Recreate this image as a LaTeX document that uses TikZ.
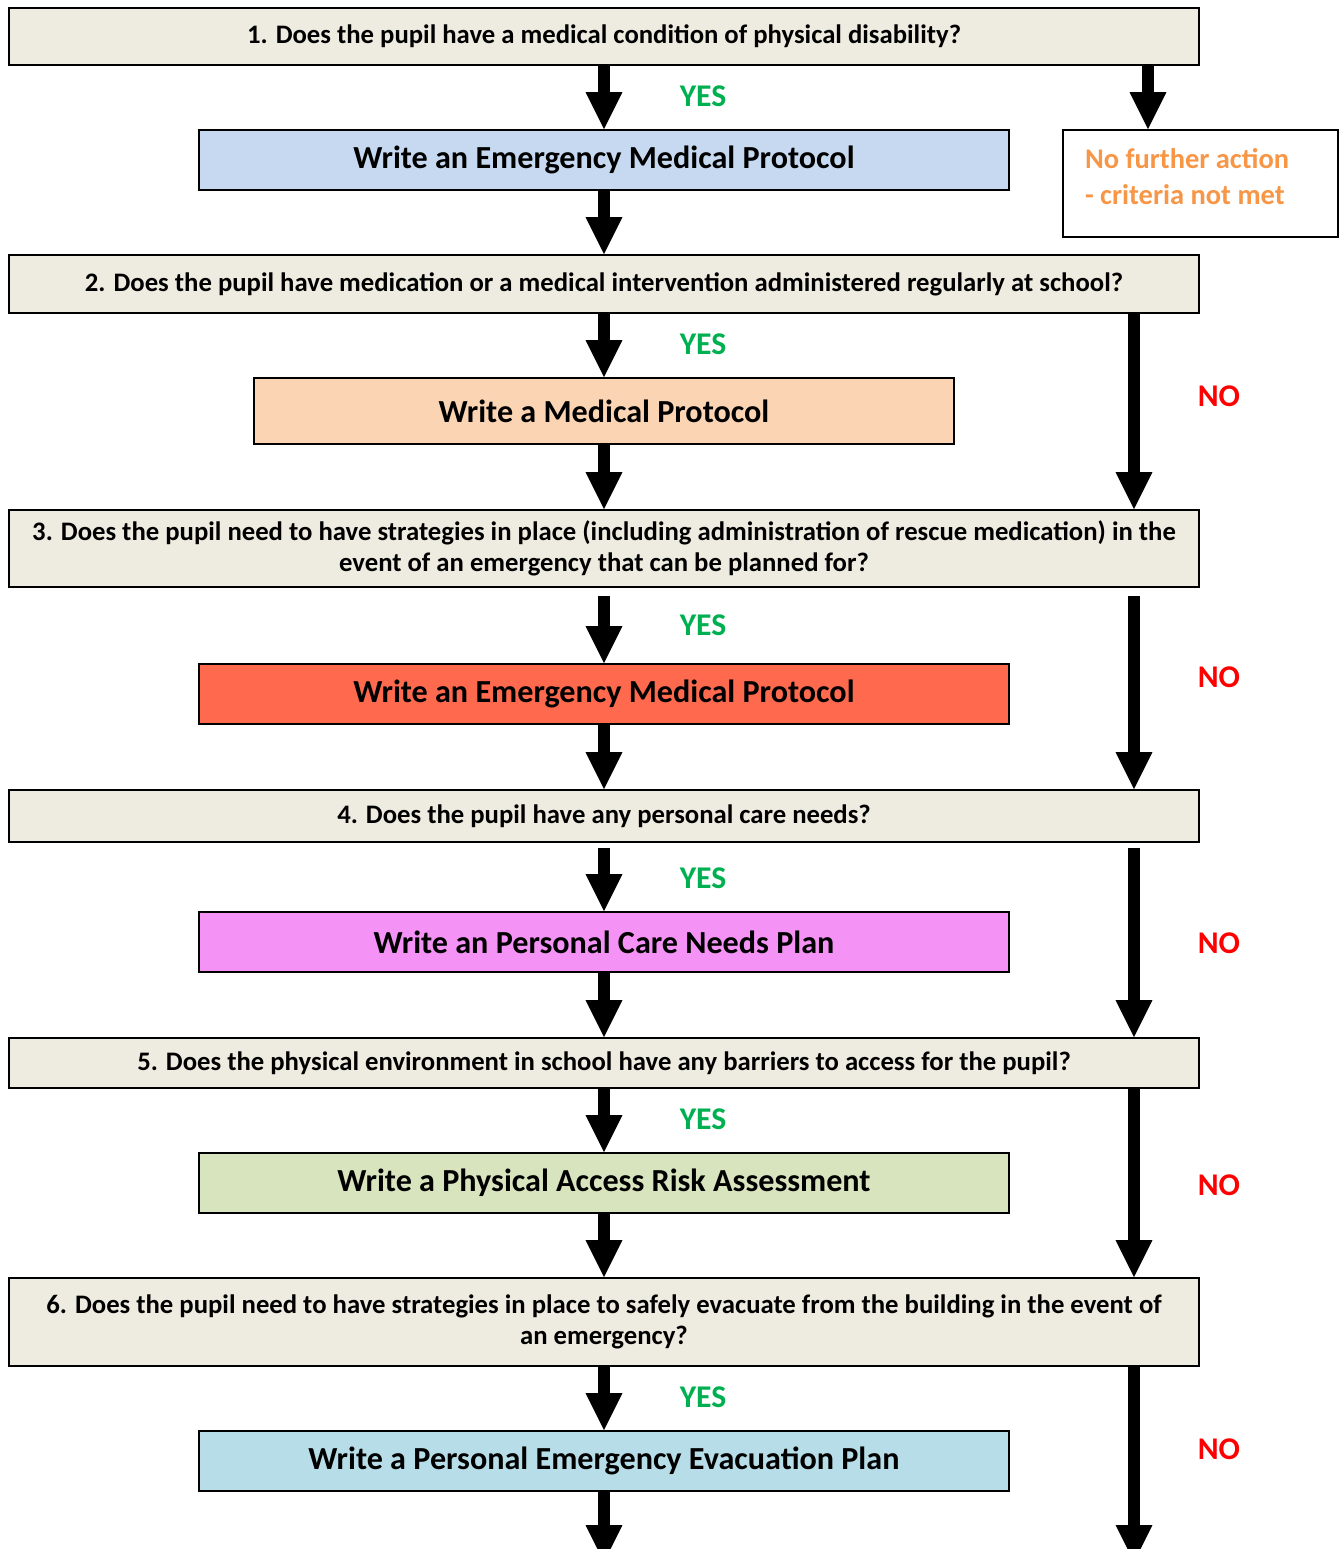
\documentclass[tikz,border=0pt]{standalone}
\usepackage{fontspec}
\setmainfont{Carlito}
\usepackage{tikz}
\usetikzlibrary{arrows.meta,positioning}
\definecolor{qfill}{HTML}{EEECE1}
\definecolor{bluefill}{HTML}{C6D9F1}
\definecolor{peachfill}{HTML}{FBD4B4}
\definecolor{redfill}{HTML}{FF694D}
\definecolor{pinkfill}{HTML}{F592F5}
\definecolor{greenfill}{HTML}{D7E4BD}
\definecolor{cyanfill}{HTML}{B7DEE8}
\definecolor{yesgreen}{HTML}{00B050}
\definecolor{nored}{HTML}{FF0000}
\definecolor{nfaorange}{HTML}{F79646}
\tikzstyle{question} = [rectangle, draw, line width=1.1pt, fill=qfill, inner sep=0pt,
    minimum width=23.8cm, align=center, font=\fontsize{15.2}{18}\selectfont\bfseries]
\tikzstyle{action} = [rectangle, draw, line width=1.1pt, inner sep=0pt,
    minimum width=16.2cm, minimum height=1.2cm, font=\fontsize{18.3}{22}\selectfont\bfseries]
\tikzstyle{arrow} = [line width=6.8pt, -{Triangle[width=21pt,length=21pt,line width=0pt]}]
\tikzstyle{yes} = [text=yesgreen, font=\fontsize{18}{22}\selectfont\bfseries]
\tikzstyle{no} = [text=nored, font=\fontsize{18}{22}\selectfont\bfseries]

\begin{document}
\begin{tikzpicture}[x=0.02cm, y=-0.02cm]
\useasboundingbox (0,0) rectangle (1343,1549);
% questions and actions, main column
\node[question, minimum height=1.14cm] (q1) at (604,36.5) {1. Does the pupil have a medical condition of physical disability?};
\node[action, fill=bluefill] (a1) at (604,160) {Write an Emergency Medical Protocol};
\node[question, minimum height=1.16cm] (q2) at (604,284) {2. Does the pupil have medication or a medical intervention administered regularly at school?};
\node[action, fill=peachfill, minimum width=14cm, minimum height=1.32cm] (a2) at (604,411) {Write a Medical Protocol};
\node[question, minimum height=1.54cm] (q3) at (604,548.5) {3. Does the pupil need to have strategies in place (including administration of rescue medication) in the\\event of an emergency that can be planned for?};
\node[action, fill=redfill] (a3) at (604,694) {Write an Emergency Medical Protocol};
\node[question, minimum height=1.04cm] (q4) at (604,816) {4. Does the pupil have any personal care needs?};
\node[action, fill=pinkfill] (a4) at (604,942) {Write an Personal Care Needs Plan};
\node[question, minimum height=1.0cm] (q5) at (604,1063) {5. Does the physical environment in school have any barriers to access for the pupil?};
\node[action, fill=greenfill] (a5) at (604,1183) {Write a Physical Access Risk Assessment};
\node[question, minimum height=1.76cm] (q6) at (604,1322) {6. Does the pupil need to have strategies in place to safely evacuate from the building in the event of\\an emergency?};
\node[action, fill=cyanfill] (a6) at (604,1461) {Write a Personal Emergency Evacuation Plan};
% no further action
\node[rectangle, draw, line width=1.1pt, inner sep=0pt, minimum width=5.5cm, minimum height=2.14cm,
    text=nfaorange, font=\fontsize{16.2}{20.4}\selectfont\bfseries]
    (nfa) at (1200.5,183.5) {\raisebox{0.14cm}[\height][\depth]{\parbox{4.62cm}{No further action\\- criteria not met}}};
% helper coordinates
\coordinate (nfacol) at (1148,0);
\coordinate (nocol) at (1134,0);
\coordinate (endmain) at (604,1562);
\coordinate (endno) at (1134,1562);
% yes arrows
\draw[arrow] (q1) -- (a1);
\draw[arrow] (a1) -- (q2);
\draw[arrow] (q2) -- (a2);
\draw[arrow] (a2) -- (q3);
\draw[arrow, shorten <=0.16cm] (q3) -- (a3);
\draw[arrow] (a3) -- (q4);
\draw[arrow, shorten <=0.1cm] (q4) -- (a4);
\draw[arrow] (a4) -- (q5);
\draw[arrow] (q5) -- (a5);
\draw[arrow] (a5) -- (q6);
\draw[arrow] (q6) -- (a6);
\draw[arrow] (a6) -- (endmain);
% no arrows
\draw[arrow] (q1.south -| nfacol) -- (nfa.north -| nfacol);
\draw[arrow] (q2.south -| nocol) -- (q3.north -| nocol);
\draw[arrow, shorten <=0.16cm] (q3.south -| nocol) -- (q4.north -| nocol);
\draw[arrow, shorten <=0.1cm] (q4.south -| nocol) -- (q5.north -| nocol);
\draw[arrow] (q5.south -| nocol) -- (q6.north -| nocol);
\draw[arrow] (q6.south -| nocol) -- (endno);
% labels
\node[yes] (y1) at (703,96) {YES};
\node[yes] (y2) at (703,344) {YES};
\node[yes] (y3) at (703,625) {YES};
\node[yes] (y4) at (703,878) {YES};
\node[yes] (y5) at (703,1119) {YES};
\node[yes] (y6) at (703,1397) {YES};
\node[no] (n2) at (1219,396) {NO};
\node[no] (n3) at (1219,677) {NO};
\node[no] (n4) at (1219,943) {NO};
\node[no] (n5) at (1219,1185) {NO};
\node[no] (n6) at (1219,1449) {NO};
\end{tikzpicture}
\end{document}
